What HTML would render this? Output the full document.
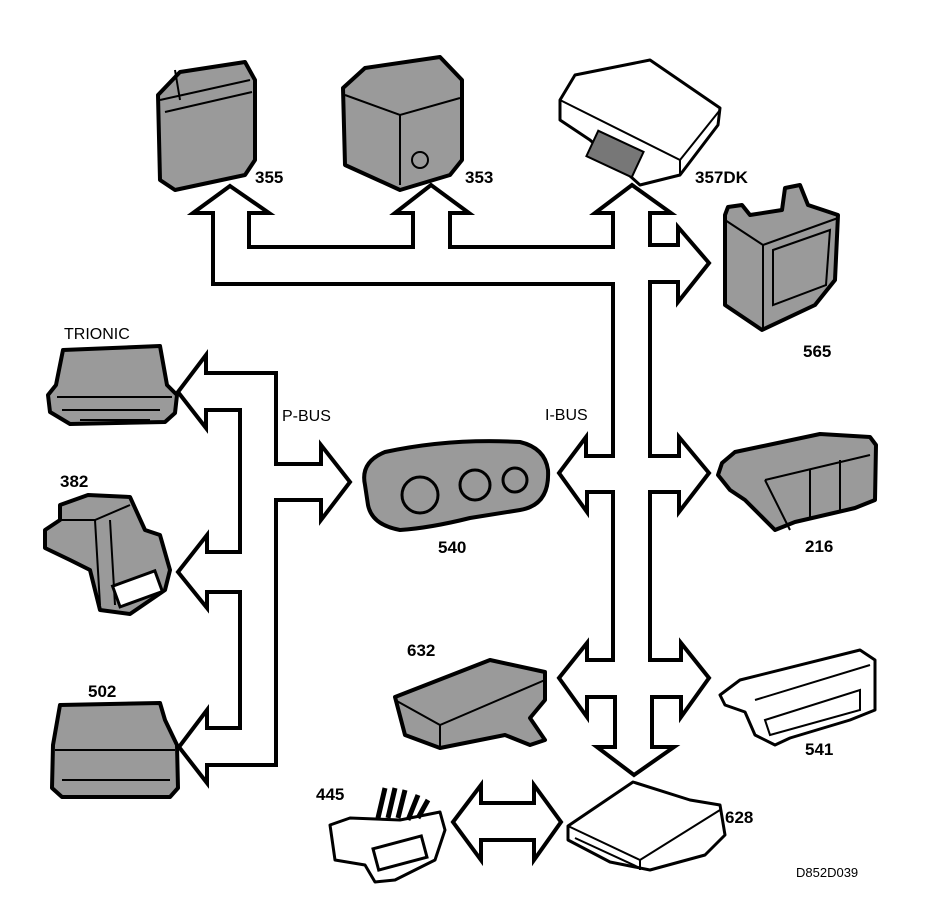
<!DOCTYPE html>
<html><head><meta charset="utf-8"><style>
html,body{margin:0;padding:0;background:#fff}
svg{display:block}
text{font-family:"Liberation Sans",sans-serif;fill:#000}
.n{font-size:17px;font-weight:bold}
.l{font-size:16px}
.d{stroke:#000;stroke-width:4;stroke-linejoin:round;fill:#9a9a9a}
.dl{stroke:#000;stroke-width:2;fill:none}
.w{stroke:#000;stroke-width:3;stroke-linejoin:round;fill:#fff}
</style></head><body>
<svg width="944" height="906" viewBox="0 0 944 906" xmlns="http://www.w3.org/2000/svg">
<!-- buses -->
<g fill="#fff" stroke="#000" stroke-width="4" stroke-linejoin="miter">
<polygon points="230,186 269,213 249,213 249,247 413,247 413,213 395,213 431,185 469,213 450,213 450,247 613,247 613,213 595,213 632,185 671,213 650,213 650,245 678,245 678,227 709,263 678,302 678,282 650,282 650,456 679,456 679,437 709,473 679,512 679,492 650,492 650,660 681,660 681,643 709,678 681,717 681,697 652,697 652,747 674,747 634,775 597,747 615,747 615,697 587,697 587,717 559,678 587,643 587,660 613,660 613,492 587,492 587,512 559,473 586,437 586,456 613,456 613,284 213,284 213,213 193,213"/>
<polygon points="178,392 206,355 206,373 276,373 276,464 321,464 321,445 350,482 321,520 321,500 276,500 276,765 207,765 207,783 179,747 207,710 207,728 240,728 240,592 207,592 207,608 178,572 207,535 207,552 240,552 240,410 206,410 206,428"/>
<polygon points="453,822 481,785 481,803 534,803 534,785 561,822 534,860 534,840 481,840 481,860"/>
</g>
<!-- devices -->
<!-- 355 -->
<polygon class="d" points="158,95 180,72 245,62 255,80 255,160 245,175 175,190 160,180"/>
<path class="dl" d="M160,100 L250,80 M165,112 L252,92 M175,70 L180,100"/>
<!-- 353 -->
<polygon class="d" points="343,88 365,68 440,57 462,80 462,160 450,175 400,190 345,165"/>
<path class="dl" d="M345,95 L400,115 L460,98 M400,115 L400,185"/>
<circle cx="420" cy="160" r="8" fill="none" stroke="#000" stroke-width="2"/>
<!-- 357DK -->
<polygon class="w" points="560,100 575,75 590,72 650,60 720,108 718,125 680,175 640,185 590,140 560,120"/>
<path class="dl" d="M560,100 L680,160 L720,110 M680,160 L680,175"/>
<rect x="590" y="140" width="50" height="28" fill="#777" stroke="#000" stroke-width="2" transform="rotate(25 615 154)"/>
<!-- 565 -->
<polygon class="d" points="725,215 728,207 742,205 750,215 782,210 785,188 800,185 808,205 838,215 835,280 815,305 762,330 725,305"/>
<path class="dl" d="M725,220 L763,245 L838,218 M763,245 L763,328 M773,250 L830,230 L826,285 L773,305 Z"/>
<!-- TRIONIC -->
<polygon class="d" points="63,350 160,346 167,385 177,395 175,413 165,422 70,424 50,412 48,395 56,385"/>
<path class="dl" d="M57,397 L172,397 M62,410 L160,410 M80,420 L150,420"/>
<!-- 382 -->
<polygon class="d" points="60,505 88,495 130,497 145,530 160,535 170,570 165,590 130,614 100,610 90,570 70,560 45,548 45,530 60,520"/>
<path class="dl" d="M95,520 L100,605 M110,520 L115,605 M60,520 L95,520 L130,505"/>
<rect x="115" y="578" width="45" height="22" fill="#fff" stroke="#000" stroke-width="3" transform="rotate(-20 137 589)"/>
<!-- 502 -->
<polygon class="d" points="60,705 160,703 165,720 177,745 178,788 170,797 62,797 52,788 53,745"/>
<path class="dl" d="M55,750 L175,750 M62,780 L170,780"/>
<!-- 540 -->
<path class="d" d="M365,485 Q360,462 385,452 Q450,438 520,442 Q545,448 548,470 Q550,505 520,510 L470,518 Q430,528 400,530 Q372,525 368,505 Z"/>
<circle cx="420" cy="495" r="18" fill="none" stroke="#000" stroke-width="3"/>
<circle cx="475" cy="485" r="15" fill="none" stroke="#000" stroke-width="3"/>
<circle cx="515" cy="480" r="12" fill="none" stroke="#000" stroke-width="3"/>
<!-- 216 -->
<polygon class="d" points="722,463 735,452 820,434 870,437 876,445 875,500 855,508 795,522 775,530 760,515 745,500 730,490 718,475"/>
<path class="dl" d="M765,480 L790,530 M765,480 L870,455 M810,470 L810,520 M840,460 L840,510"/>
<!-- 632 -->
<polygon class="d" points="395,697 490,660 545,672 545,700 530,718 545,740 530,745 505,735 480,740 440,748 405,735"/>
<path class="dl" d="M395,700 L440,725 L545,680 M440,725 L440,748"/>
<!-- 541 -->
<polygon class="w" points="720,695 740,680 860,650 875,660 875,710 850,720 790,738 775,745 755,735 745,712 725,705"/>
<path class="dl" d="M755,700 L870,665 M765,720 L860,690 L860,710 L770,735 Z"/>
<!-- 445 -->
<polygon class="w" points="330,825 350,818 400,820 440,812 445,830 435,860 395,880 375,882 365,865 335,860"/>
<path d="M378,818 L385,788 M388,818 L395,788 M398,818 L405,790 M408,820 L418,795 M418,818 L428,800" stroke="#000" stroke-width="5"/>
<rect x="375" y="842" width="50" height="22" fill="#fff" stroke="#000" stroke-width="3" transform="rotate(-15 400 853)"/>
<!-- 628 -->
<polygon class="w" points="568,826 633,782 690,800 720,805 725,835 705,855 650,870 610,862 568,840"/>
<path class="dl" d="M568,826 L640,860 L720,810 M640,860 L640,870 M575,838 L640,868"/>
<!-- labels -->
<text class="n" x="255" y="183">355</text>
<text class="n" x="465" y="183">353</text>
<text class="n" x="695" y="183">357DK</text>
<text class="n" x="803" y="357">565</text>
<text class="l" x="64" y="339">TRIONIC</text>
<text class="n" x="60" y="487">382</text>
<text class="n" x="88" y="697">502</text>
<text class="l" x="282" y="421">P-BUS</text>
<text class="l" x="545" y="420">I-BUS</text>
<text class="n" x="438" y="553">540</text>
<text class="n" x="805" y="552">216</text>
<text class="n" x="407" y="656">632</text>
<text class="n" x="805" y="755">541</text>
<text class="n" x="316" y="800">445</text>
<text class="n" x="725" y="823">628</text>
<text style="font-size:13px" x="796" y="877">D852D039</text>
</svg>
</body></html>
